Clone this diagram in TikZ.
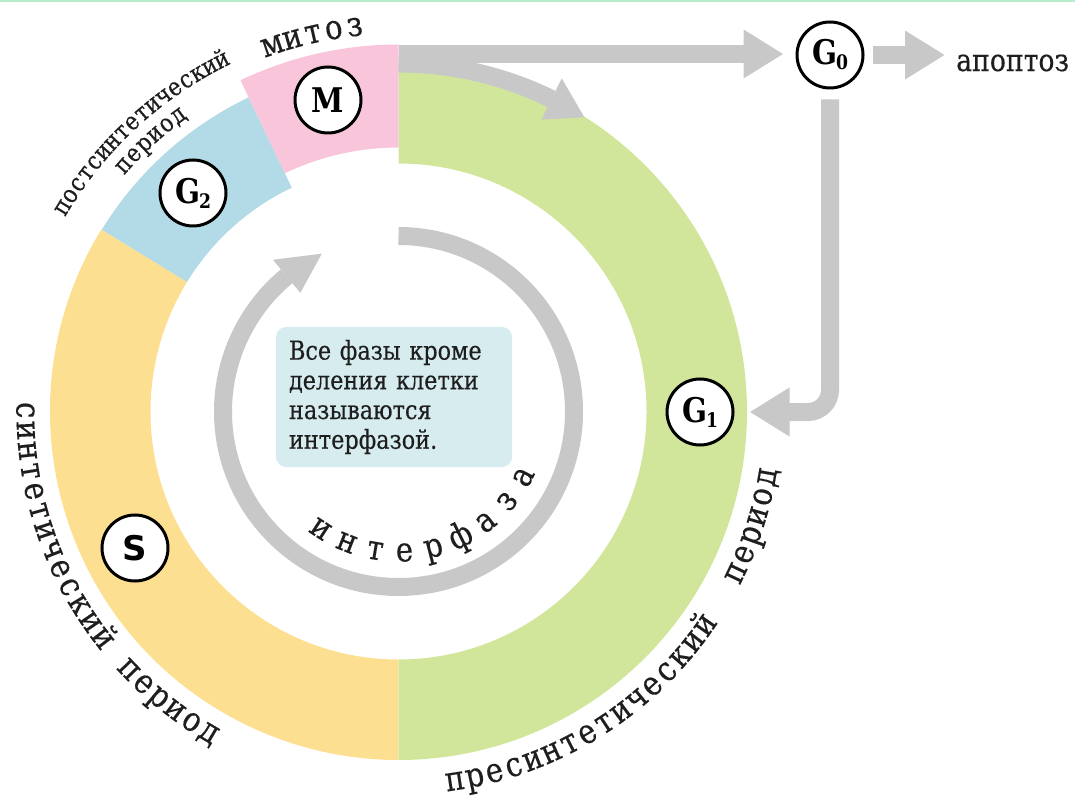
\documentclass[tikz,border=0pt]{standalone}
\usepackage{fontspec}
\setmainfont{DejaVu Serif}[FakeStretch=0.86]
\newfontfamily\textface{DejaVu Serif}[FakeStretch=0.86, FakeBold=0.3]
\newfontfamily\labelsans{DejaVu Sans}
\usetikzlibrary{arrows.meta,calc}

\definecolor{ringgreen}{HTML}{D2E69B}
\definecolor{ringyellow}{HTML}{FDDF92}
\definecolor{ringblue}{HTML}{B2DBE7}
\definecolor{ringpink}{HTML}{F9C5DB}
\definecolor{arrowgray}{HTML}{C8C8C8}
\definecolor{notefill}{HTML}{D6ECEF}
\definecolor{inkdark}{HTML}{1E1E1E}
\definecolor{topline}{HTML}{B6EDCB}

% filled ring sector: colour, inner radius, outer radius, start angle, end angle
\newcommand\annsector[5]{%
  \fill[#1] (#4:#3) arc[start angle=#4, end angle=#5, radius=#3]
    -- (#5:#2) arc[start angle=#5, end angle=#4, radius=#2] -- cycle;}

% letters set one by one along a circle around the origin
% style, name prefix, baseline radius, first angle, angle step, rotation offset, letters
\newcommand\curvedletters[7]{%
  \foreach \lettr [count=\idx from 0] in {#7} {%
    \pgfmathsetmacro\ang{#4+\idx*(#5)}%
    \node[#1, rotate=\ang+#6] (#2\idx) at (\ang:#3) {\lettr};
  }}

\begin{document}
\begin{tikzpicture}[x=1pt,y=1pt,
  curvedtext/.style={anchor=base, inner sep=0pt, text=inkdark, font=\textface\fontsize{34}{34}\selectfont},
  smallcurved/.style={curvedtext, font=\textface\fontsize{25}{25}\selectfont},
  phase/.style={circle, draw=black, line width=3pt, fill=white, minimum size=66pt,
    inner sep=0pt, text=black, font=\fontsize{34}{34}\selectfont\bfseries},
  grayarrow/.style={draw=arrowgray, line width=18pt, -{Triangle[width=46pt,length=40pt]}},
  grayband/.style={draw=arrowgray, line width=18pt},
  graytip/.style={fill=arrowgray},
  notebox/.style={fill=notefill, rounded corners=10pt, minimum width=232pt, minimum height=140pt,
    text width=210pt, inner xsep=13pt, align=left, text=inkdark,
    font=\textface\fontsize{26}{29.7}\selectfont}]

\useasboundingbox (0,0) rectangle (1075,804);
\fill[topline] (0,802) rectangle (1075,804);

\begin{scope}[shift={(398.5,392.5)}]
  % the four phases of the cycle
  \annsector{ringyellow}{248pt}{348.5pt}{148.5}{270}
  \annsector{ringgreen}{248pt}{348.5pt}{-90}{90}
  \annsector{ringblue}{248pt}{348pt}{115.5}{148.5}
  \annsector{ringpink}{264pt}{367pt}{90}{115.5}

  % branch from mitosis back into G1
  \draw[grayband] (90:348pt) arc[start angle=90, end angle=63.9, radius=348pt];
  \fill[graytip] (63.9:371pt) -- (57.7:348pt) -- (63.9:325pt) -- cycle;

  % inner circular arrow of the interphase
  \draw[grayband] (90:175.5pt) arc[start angle=90, end angle=-230.4, radius=175.5pt];
  \fill[graytip] (129.6:197pt) -- (115.9:175.5pt) -- (129.6:154pt) -- cycle;

  % curved labels
  \curvedletters{curvedtext}{inter}{150pt}{-123.5}{11.98}{90}{и,н,т,е,р,ф,а,з,а}
  \curvedletters{curvedtext}{mit}{378pt}{109}{-3.125}{-90}{м,и,т,о,з}
  \curvedletters{curvedtext}{synt}{382pt}{179.8}{3.14}{90}{с,и,н,т,е,т,и,ч,е,с,к,и,й,~,п,е,р,и,о,д}
  \curvedletters{curvedtext}{pres}{383pt}{-81.3}{3.096}{90}{п,р,е,с,и,н,т,е,т,и,ч,е,с,к,и,й,~,~,п,е,р,и,о,д}
  \curvedletters{smallcurved}{post}{386pt}{148.7}{-2.0}{-90}{п,о,с,т,с,и,н,т,е,т,и,ч,е,с,к,и,й}
  \curvedletters{smallcurved}{postb}{362pt}{138.15}{-2.3}{-90}{п,е,р,и,о,д}
\end{scope}

% phase markers
\node[phase] (m)  at (328,704) {M};
\node[phase] (g2) at (193,611) {G\kern-1pt\raisebox{-5pt}{\fontsize{20}{20}\selectfont 2}};
\node[phase] (s)  at (135,256) {\labelsans\bfseries S};
\node[phase] (g1) at (700,392) {G\kern-1pt\raisebox{-5pt}{\fontsize{20}{20}\selectfont 1}};
\node[phase] (g0) at (830,749) {G\kern-1pt\raisebox{-5pt}{\fontsize{20}{20}\selectfont 0}};

\node[anchor=west, inner sep=0pt, text=inkdark, font=\textface\fontsize{31}{31}\selectfont] (apop) at (956,741) {апоптоз};

% exits from mitosis and the resting state
\coordinate (mexit) at (399,750);
\draw[grayarrow, shorten >=12pt] (mexit) -- (mexit -| g0.west);
\draw[grayarrow, shorten <=8pt, shorten >=11pt] (g0.east) -- (g0.east -| apop.west);
\draw[grayarrow, rounded corners=22pt] ($(g0.south)+(0,-10)$) |- ($(g1.east)+(15,0)$);

% note in the middle
\node[notebox] (note) at (394,407) {Все фазы кроме\\деления клетки\\называются\\интерфазой.};
\end{tikzpicture}
\end{document}
